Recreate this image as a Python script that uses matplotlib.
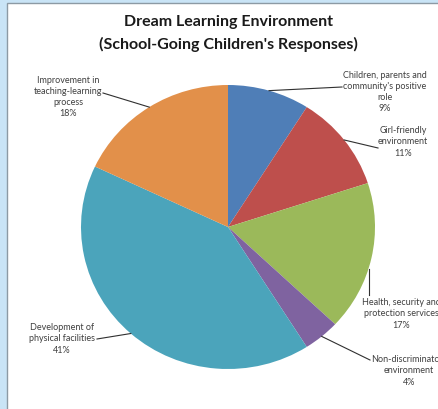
import matplotlib
matplotlib.use("Agg")
import matplotlib.pyplot as plt
from matplotlib.patches import Rectangle
from matplotlib.lines import Line2D
from matplotlib.transforms import IdentityTransform
import numpy as np

# Survey shares (percent), clockwise from 12 o'clock
categories = [
    "Children, parents and\ncommunity's positive\nrole",
    "Girl-friendly\nenvironment",
    "Health, security and\nprotection services",
    "Non-discriminatory\nenvironment",
    "Development of\nphysical facilities",
    "Improvement in\nteaching-learning\nprocess",
]
values = [9, 11, 17, 4, 41, 18]
colors = ["#4F7EB7", "#BE4F4C", "#9BB95A", "#7F63A0", "#4BA4BB", "#E2904A"]
title = "Dream Learning Environment\n(School-Going Children's Responses)"

W, H, DPI = 439, 410, 100
fig = plt.figure(figsize=(W / DPI, H / DPI), dpi=DPI, facecolor="#C9E4F6")
plt.rcParams["font.family"] = ["Lato", "DejaVu Sans"]

# white chart area with a thin grey frame
fig.add_artist(Rectangle((6.5, -20), W + 20, H - 3.5 + 20, transform=IdentityTransform(),
                         facecolor="white", edgecolor="#8C9AA4", lw=1.0, zorder=-5))

def top(y):
    return H - y

# pie axes (slightly wider than tall, as in the spreadsheet export)
cx, cy, rx, ry = 228, 228, 147, 142
ax = fig.add_axes([(cx - rx) / W, (top(cy) - ry) / H, 2 * rx / W, 2 * ry / H])
ax.set_zorder(1)
ax.pie(values, colors=colors, startangle=90, counterclock=False,
       wedgeprops=dict(linewidth=0))
ax.set_aspect("auto")
ax.set_xlim(-1, 1)
ax.set_ylim(-1, 1)
ax.axis("off")

fig.text(cx / W, top(33.5) / H, title, ha="center", va="center", fontsize=11.5,
         fontweight="bold", color="#1A1A1A", linespacing=1.6)

# label placement: text centre (px from top-left), leader end point
label_pos = [
    ((385, 92), (342, 88)),
    ((403, 142), (378, 149)),
    ((401, 314), (369, 296)),
    ((408, 371), (370, 361)),
    ((62, 339), (97, 340)),
    ((68, 97), (103, 94)),
]

fig.canvas.draw()
cum = np.cumsum([0] + values)
total = sum(values)
for i, (cat, v) in enumerate(zip(categories, values)):
    mid = (cum[i] + cum[i + 1]) / 2 / total * 2 * np.pi
    sx, sy = ax.transData.transform((np.sin(mid), np.cos(mid)))
    (tx, ty), (ex, ey) = label_pos[i]
    txt = f"{cat}\n{v}%"
    if i == 3:
        fig.text((tx - 37) / W, top(ty) / H, txt, ha="left", va="center", fontsize=6.5,
                 color="#404040", linespacing=1.3, multialignment="center", zorder=3)
    else:
        fig.text(tx / W, top(ty) / H, txt, ha="center", va="center", fontsize=6.5,
                 color="#404040", linespacing=1.3, zorder=3)
    pts_x = [sx, ex]
    pts_y = [sy, top(ey)]
    if i == 2:
        pts_x = [ex, ex]
        pts_y = [top(270), top(ey)]
    fig.add_artist(Line2D(pts_x, pts_y, transform=IdentityTransform(),
                          color="#303030", lw=0.8, zorder=3))

fig.savefig("out.png", dpi=DPI, facecolor=fig.get_facecolor())
